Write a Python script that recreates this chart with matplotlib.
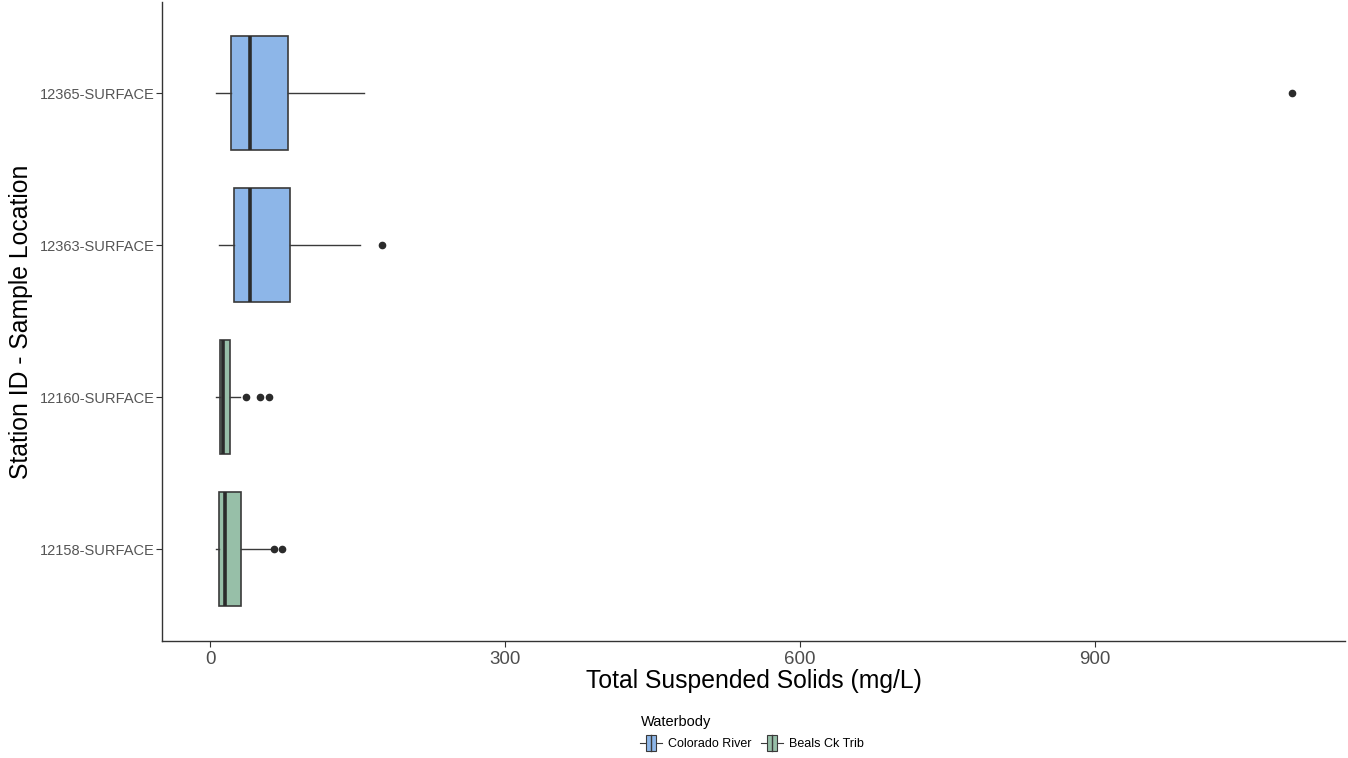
import numpy as np
import matplotlib.pyplot as plt
from matplotlib.legend_handler import HandlerBase
from matplotlib.patches import Rectangle
from matplotlib.lines import Line2D

plt.rcParams['font.family'] = ['Liberation Sans', 'DejaVu Sans']

# stations from bottom to top
stations = ["12158-SURFACE", "12160-SURFACE", "12363-SURFACE", "12365-SURFACE"]
waterbody = ["Beals Ck Trib", "Beals Ck Trib", "Colorado River", "Colorado River"]

# five-number summaries (mg/L)
whisker_lo = [6, 6, 9.5, 6]
q1 = [8.8, 10.5, 24, 21]
median = [14.9, 12.9, 41, 40.7]
q3 = [31.2, 20.3, 81.4, 79.3]
whisker_hi = [62, 30, 152.6, 157]
outliers = [[65.4, 72.9], [36.6, 50.5, 59.7], [174.6], [1100]]

colors = {"Colorado River": "#8DB6E8", "Beals Ck Trib": "#97BFA8"}
edge = "#3a3a3a"

fig = plt.figure(figsize=(13.48, 7.58), dpi=100)
ax = fig.add_axes([0.1202, 0.155, 0.8776, 0.842])

stats = []
for i in range(len(stations)):
    stats.append(dict(whislo=whisker_lo[i], q1=q1[i], med=median[i], q3=q3[i],
                      whishi=whisker_hi[i], fliers=outliers[i], label=stations[i]))

bp = ax.bxp(stats, positions=np.arange(1, 5), widths=0.75, vert=False,
            patch_artist=True, showcaps=False,
            boxprops=dict(edgecolor=edge, linewidth=1.2),
            whiskerprops=dict(color=edge, linewidth=1.0),
            medianprops=dict(color="#2b2b2b", linewidth=2.6),
            flierprops=dict(marker="o", markerfacecolor="#2b2b2b",
                            markeredgecolor="#2b2b2b", markersize=4.5))
for patch, wb in zip(bp["boxes"], waterbody):
    patch.set_facecolor(colors[wb])

ax.set_xlim(-48.8, 1154.2)
ax.set_ylim(0.4, 4.6)
ax.set_xticks([0, 300, 600, 900])
ax.tick_params(axis="x", labelsize=13.5, labelcolor="#4d4d4d", color="#333333",
               length=4, width=0.8)
ax.tick_params(axis="y", labelsize=10.5, labelcolor="#555555", color="#333333",
               length=4, width=0.8, pad=1.5)
ax.set_yticks(np.arange(1, 5))
ax.set_yticklabels(stations)
for s in ["top", "right"]:
    ax.spines[s].set_visible(False)
for s in ["left", "bottom"]:
    ax.spines[s].set_color("#333333")
    ax.spines[s].set_linewidth(1.0)

ax.set_xlabel("Total Suspended Solids (mg/L)", fontsize=17.8, labelpad=1)
ax.set_ylabel("Station ID - Sample Location", fontsize=17.8, labelpad=5)


class BoxKey(HandlerBase):
    def create_artists(self, legend, orig_handle, xdescent, ydescent,
                       width, height, fontsize, trans):
        fc = orig_handle.get_facecolor()
        cy = height / 2 - ydescent
        w = width
        h = height * 0.5
        arts = [
            Line2D([0, w], [cy, cy], color=edge, lw=0.8, transform=trans),
            Rectangle((w * 0.25, cy - h), w * 0.5, 2 * h,
                      facecolor=fc, edgecolor=edge, lw=0.8, transform=trans),
            Line2D([w / 2, w / 2], [cy - h, cy + h],
                   color=edge, lw=1.0, transform=trans),
        ]
        return arts


handles = [Rectangle((0, 0), 1, 1, facecolor=colors["Colorado River"]),
           Rectangle((0, 0), 1, 1, facecolor=colors["Beals Ck Trib"])]
leg = fig.legend(handles, ["Colorado River", "Beals Ck Trib"],
                 handler_map={Rectangle: BoxKey()},
                 loc="center", bbox_to_anchor=(0.558, 0.033), ncol=2,
                 frameon=False, fontsize=9, title="Waterbody",
                 title_fontsize=10.5, alignment="left",
                 handlelength=1.7, handleheight=1.5, handletextpad=0.5,
                 columnspacing=0.8, borderpad=0.2)

fig.savefig("out.png", dpi=100)
